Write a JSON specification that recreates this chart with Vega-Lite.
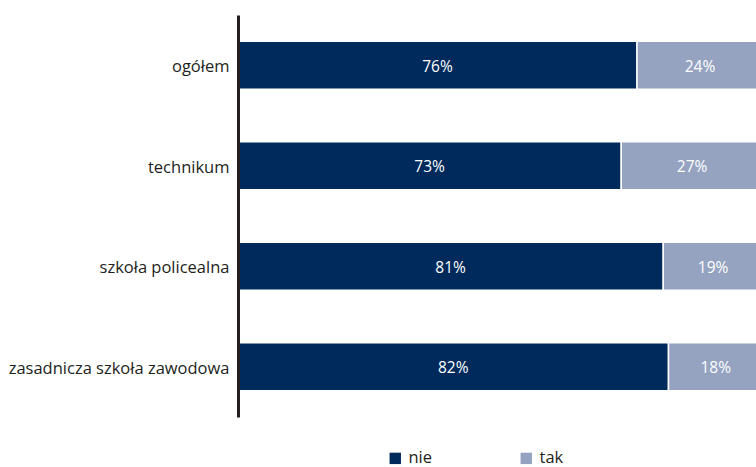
{
  "$schema": "https://vega.github.io/schema/vega-lite/v6.json",
  "autosize": {"type": "none"},
  "width": 518,
  "height": 402,
  "padding": {"left": 238, "top": 15, "right": 0, "bottom": 50},
  "background": "white",
  "config": {
    "view": {"stroke": null},
    "font": "Open Sans",
    "axis": {"labelFont": "Open Sans"},
    "legend": {"labelFont": "Open Sans"}
  },
  "data": {
    "values": [
      {"grupa": "ogółem", "odp": "nie", "v": 0.76},
      {"grupa": "ogółem", "odp": "tak", "v": 0.24},
      {"grupa": "technikum", "odp": "nie", "v": 0.73},
      {"grupa": "technikum", "odp": "tak", "v": 0.27},
      {"grupa": "szkoła policealna", "odp": "nie", "v": 0.81},
      {"grupa": "szkoła policealna", "odp": "tak", "v": 0.19},
      {"grupa": "zasadnicza szkoła zawodowa", "odp": "nie", "v": 0.82},
      {"grupa": "zasadnicza szkoła zawodowa", "odp": "tak", "v": 0.18}
    ]
  },
  "encoding": {
    "y": {
      "field": "grupa",
      "type": "nominal",
      "sort": ["ogółem", "technikum", "szkoła policealna", "zasadnicza szkoła zawodowa"],
      "scale": {"paddingInner": 0.52, "paddingOuter": 0.26},
      "axis": {
        "title": null,
        "ticks": false,
        "zindex": 1,
        "domainColor": "#231f20",
        "domainWidth": 3,
        "labelFontSize": 16.5,
        "labelColor": "#231f20",
        "labelPadding": 9,
        "labelOffset": 2,
        "labelLimit": 300
      }
    }
  },
  "layer": [
    {
      "mark": {"type": "bar", "stroke": "white", "strokeWidth": 1.5, "clip": false},
      "encoding": {
        "x": {"field": "v", "type": "quantitative", "stack": "zero", "scale": {"domain": [0, 0.9867], "nice": false}, "axis": null},
        "color": {
          "field": "odp",
          "type": "nominal",
          "scale": {"domain": ["nie", "tak"], "range": ["#002a5c", "#95a3c1"]},
          "legend": {
            "title": null,
            "orient": "none",
            "direction": "horizontal",
            "legendX": 149,
            "legendY": 435,
            "symbolType": "square",
            "symbolSize": 130,
            "symbolStrokeWidth": 0,
            "labelFontSize": 16.5,
            "labelColor": "#231f20",
            "labelOffset": 5,
            "columnPadding": 85
          }
        },
        "order": {"field": "odp", "sort": "ascending"}
      }
    },
    {
      "mark": {"type": "text", "color": "white", "fontSize": 15.5, "dy": 1.5},
      "encoding": {
        "x": {"field": "v", "type": "quantitative", "stack": "zero", "bandPosition": 0.5},
        "detail": {"field": "odp"},
        "order": {"field": "odp", "sort": "ascending"},
        "text": {"field": "v", "type": "quantitative", "format": ".0%"}
      }
    }
  ]
}
